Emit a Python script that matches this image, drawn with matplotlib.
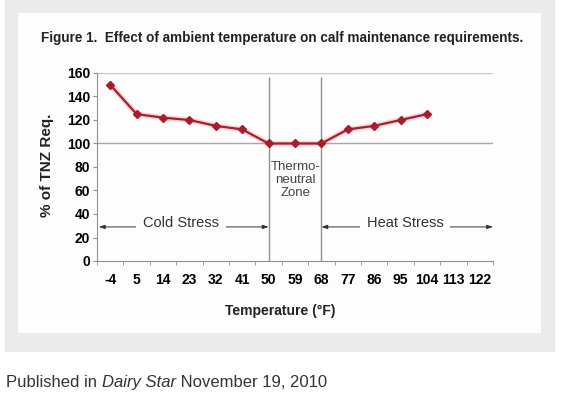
import matplotlib
matplotlib.use("Agg")
import matplotlib.pyplot as plt
from matplotlib.patches import Rectangle

# data
temps = [-4, 5, 14, 23, 32, 41, 50, 59, 68, 77, 86, 95, 104, 113, 122]
req_pct = [150, 125, 122, 120, 115, 112, 100, 100, 100, 112, 115, 120, 125]
zone_edges = [50, 68]
y_ticks = [0, 20, 40, 60, 80, 100, 120, 140, 160]

W, H = 567, 396


def fx(px):
    return px / W


def fy(py):
    return 1 - py / H


plt.rcParams["font.family"] = ["Liberation Sans", "DejaVu Sans"]

fig = plt.figure(figsize=(W / 100, H / 100), dpi=100)
fig.patch.set_facecolor("white")

# grey frame and white card
fig.add_artist(Rectangle((fx(5), fy(352)), fx(550), 352 / H,
                         transform=fig.transFigure, facecolor="#ebebeb",
                         edgecolor="none", zorder=0))
fig.add_artist(Rectangle((fx(18), fy(333)), fx(523), 320 / H,
                         transform=fig.transFigure, facecolor="#fdfdfd",
                         edgecolor="none", zorder=0))

ax = fig.add_axes([fx(97), fy(261), fx(493 - 97), (261 - 73) / H])
ax.set_facecolor("none")

x = list(range(len(req_pct)))
ax.plot(x, req_pct, color="#e03040", lw=4, alpha=0.18, zorder=3)
ax.plot(x, req_pct, color="#a81c2c", lw=1.6, marker="D", ms=3.8,
        zorder=4)

ax.set_xlim(-0.5, len(temps) - 0.5)
ax.set_ylim(0, 160)

# gridlines at 100 and 160 only
ax.axhline(100, color="#a8a8a8", lw=1, zorder=1)
ax.axhline(160, color="#c8c8c8", lw=1, zorder=1)

# thermoneutral zone boundaries
for t in zone_edges:
    ax.vlines(temps.index(t), 0, 157, color="#909090", lw=1, zorder=2)

ax.text(7.03, 69, "Thermo-\nneutral\nZone", ha="center", va="center",
        fontsize=9.5, color="#444444", linespacing=1.15)

# stress arrows
arrow = dict(arrowstyle="<|-|>,head_length=0.35,head_width=0.12",
             color="#333333", lw=0.7, shrinkA=0, shrinkB=0)
ax.annotate("", xy=(-0.43, 29), xytext=(6, 29), arrowprops=arrow)
ax.annotate("", xy=(8, 29), xytext=(14.5, 29), arrowprops=arrow)
ax.text(2.68, 32.5, "Cold Stress", ha="center", va="center",
        fontsize=10.5, color="#333333",
        bbox=dict(facecolor="#fdfdfd", edgecolor="none", pad=5))
ax.text(11.17, 32.5, "Heat Stress", ha="center", va="center",
        fontsize=10.5, color="#333333",
        bbox=dict(facecolor="#fdfdfd", edgecolor="none", pad=5))

# axes styling
for side in ["top", "right"]:
    ax.spines[side].set_visible(False)
for side in ["left", "bottom"]:
    ax.spines[side].set_color("#909090")

ax.set_yticks(y_ticks)
ax.set_yticklabels([str(v) for v in y_ticks], fontweight="bold",
                   fontsize=10)
ax.tick_params(axis="y", length=3, color="#909090", pad=2)

ax.set_xticks(range(len(temps)))
ax.set_xticks([i - 0.5 for i in range(len(temps) + 1)], minor=True)
ax.set_xticklabels([str(t) for t in temps], fontweight="bold", fontsize=10)
ax.tick_params(axis="x", which="major", length=0, pad=9)
ax.tick_params(axis="x", which="minor", length=3, color="#909090")

fig.text(fx(282), fy(38), "Figure 1.  Effect of ambient temperature on "
         "calf maintenance requirements.", ha="center", va="center",
         fontsize=9.75, fontweight="bold", color="#222222")
fig.text(fx(280), fy(311), "Temperature (\u00b0F)", ha="center",
         va="center", fontsize=10, fontweight="bold", color="#222222")
fig.text(fx(47), fy(165), "% of TNZ Req.", ha="center", va="center",
         rotation=90, fontsize=11, fontweight="bold", color="#222222")

# caption below the card, italic title chained after the plain text
t1 = fig.text(fx(6), fy(390), "Published in ", ha="left", va="bottom",
              fontsize=12, color="#333333")
a2 = ax.annotate("Dairy Star", xy=(1, 0), xycoords=t1, ha="left",
                 va="bottom", fontsize=12, style="italic", color="#333333",
                 annotation_clip=False)
ax.annotate(" November 19, 2010", xy=(1, 0), xycoords=a2, ha="left",
            va="bottom", fontsize=12, color="#333333",
            annotation_clip=False)

fig.savefig("out.png", dpi=100)
